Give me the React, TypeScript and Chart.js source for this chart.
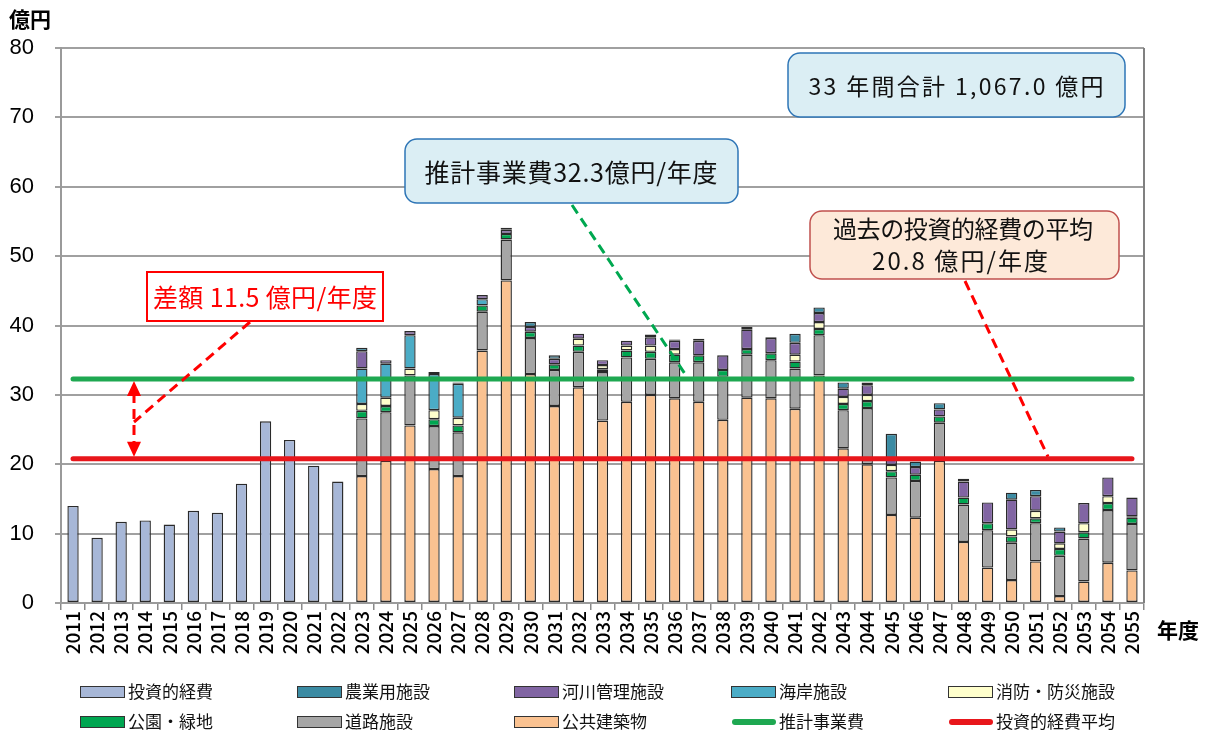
import React, { useEffect, useRef } from 'react';
import { Chart, registerables } from 'chart.js';
Chart.register(...registerables);

const YEARS = ['2011','2012','2013','2014','2015','2016','2017','2018','2019','2020','2021','2022','2023','2024','2025','2026','2027','2028','2029','2030','2031','2032','2033','2034','2035','2036','2037','2038','2039','2040','2041','2042','2043','2044','2045','2046','2047','2048','2049','2050','2051','2052','2053','2054','2055'];
const PAST_YEARS = ['2011','2012','2013','2014','2015','2016','2017','2018','2019','2020','2021','2022'];
const FUTURE_YEARS = ['2023','2024','2025','2026','2027','2028','2029','2030','2031','2032','2033','2034','2035','2036','2037','2038','2039','2040','2041','2042','2043','2044','2045','2046','2047','2048','2049','2050','2051','2052','2053','2054','2055'];

// 投資的経費 (2011-2022)
const INVESTMENT = [14.0, 9.4, 11.7, 11.9, 11.3, 13.3, 13.0, 17.2, 26.2, 23.5, 19.8, 17.5];

// 2023-2055 stacked components
const PUBLIC_BLDG = [18.3, 20.5, 25.6, 19.3, 18.3, 36.4, 46.5, 33.0, 28.4, 31.1, 26.3, 29.0, 30.0, 29.5, 29.0, 26.4, 29.6, 29.5, 28.0, 32.8, 22.3, 20.0, 12.7, 12.3, 20.5, 8.8, 5.1, 3.3, 6.0, 1.0, 3.1, 5.8, 4.7];
const ROAD = [8.3, 7.0, 7.2, 6.2, 6.3, 5.6, 5.9, 5.2, 5.2, 5.1, 7.0, 6.4, 5.2, 5.2, 5.7, 6.2, 6.2, 5.5, 5.8, 5.8, 5.5, 8.1, 5.4, 5.3, 5.5, 5.4, 5.4, 5.4, 5.5, 5.8, 6.2, 7.6, 6.7];
const PARK = [1.1, 0.9, null, 1.0, 1.0, 0.9, 0.8, 0.9, 0.8, 0.9, 0.4, 1.0, 1.0, 1.1, 1.0, 1.0, 0.8, 1.0, 1.0, 0.9, 0.9, 1.0, 0.9, 0.9, 0.9, 1.0, 1.0, 0.9, 0.7, 1.0, 0.9, 1.0, 0.9];
const FIRE = [1.0, 1.2, 1.0, 1.3, 1.1, null, null, null, null, 1.0, 0.6, 0.7, 0.9, 0.8, null, null, null, null, 1.0, 1.0, 1.0, 0.9, 0.9, null, null, null, null, 1.0, 1.1, 0.8, 1.3, 1.0, 0.2];
const COAST = [5.1, 4.9, 4.8, 5.2, 4.9, 0.9, null, null, null, null, null, null, null, null, null, null, null, null, null, null, null, null, null, null, null, null, null, null, null, null, null, null, null];
const RIVER = [2.5, 0.5, 0.6, 0.3, null, 0.6, 0.6, 0.7, 0.8, 0.7, 0.7, 0.7, 1.2, 1.2, 2.1, 2.1, 2.8, 2.2, 1.7, 1.3, 1.2, 1.4, 0.9, 1.1, 1.0, 2.3, 3.0, 4.3, 2.1, 1.7, 2.9, 2.7, 2.7];
const FARM = [0.5, null, null, null, 0.2, null, 0.3, 0.7, 0.5, null, null, null, 0.4, 0.2, 0.3, null, 0.4, 0.1, 1.3, 0.8, 0.9, 0.4, 3.6, 0.8, 0.9, 0.4, null, 1.0, 0.9, 0.6, null, null, null];

const EST_COST = 32.3;   // 推計事業費
const PAST_AVG = 20.8;   // 投資的経費平均
const Y_MAX = 80;
const Y_STEP = 10;

const JP = '"Noto Sans CJK JP", "Noto Sans", sans-serif';

const C = {
  invest: '#a7b7d7',
  farm: '#3b8ba3',
  river: '#8165a3',
  coast: '#4bacc6',
  fire: '#ffffcc',
  park: '#00a651',
  road: '#a6a6a6',
  bldg: '#fac291',
  est: '#1ea851',
  avg: '#e8161b',
};

const LEGEND = [
  { label: '投資的経費', color: C.invest, kind: 'box' },
  { label: '農業用施設', color: C.farm, kind: 'box' },
  { label: '河川管理施設', color: C.river, kind: 'box' },
  { label: '海岸施設', color: C.coast, kind: 'box' },
  { label: '消防・防災施設', color: C.fire, kind: 'box' },
  { label: '公園・緑地', color: C.park, kind: 'box' },
  { label: '道路施設', color: C.road, kind: 'box' },
  { label: '公共建築物', color: C.bldg, kind: 'box' },
  { label: '推計事業費', color: C.est, kind: 'line' },
  { label: '投資的経費平均', color: C.avg, kind: 'line' },
];

function barSet(label: string, years: string[], values: (number | null)[], color: string) {
  return {
    type: 'bar' as const,
    label,
    data: years.map((x, i) => ({ x, y: values[i] })),
    backgroundColor: color,
    borderColor: '#2a2a2a',
    borderWidth: 1.4,
    borderSkipped: false,
    barPercentage: 0.47,
    categoryPercentage: 1,
    stack: 'bars',
    order: 1,
  };
}

function lineSet(label: string, value: number, color: string, stack: string) {
  return {
    type: 'line' as const,
    label,
    data: [{ x: YEARS[0], y: value }, { x: YEARS[YEARS.length - 1], y: value }],
    borderColor: color,
    backgroundColor: color,
    borderWidth: 5,
    borderCapStyle: 'round',
    pointRadius: 0,
    fill: false,
    stack,
    order: 0,
  };
}

function dashLine(ctx: CanvasRenderingContext2D, x1: number, y1: number, x2: number, y2: number, color: string) {
  ctx.save();
  ctx.strokeStyle = color;
  ctx.lineWidth = 3;
  ctx.setLineDash([10, 6]);
  ctx.beginPath();
  ctx.moveTo(x1, y1);
  ctx.lineTo(x2, y2);
  ctx.stroke();
  ctx.restore();
}

function box(ctx: CanvasRenderingContext2D, x: number, y: number, w: number, h: number, r: number, fill: string, stroke: string, lw: number) {
  ctx.save();
  ctx.beginPath();
  if (r > 0) (ctx as any).roundRect(x, y, w, h, r);
  else ctx.rect(x, y, w, h);
  ctx.fillStyle = fill;
  ctx.fill();
  ctx.lineWidth = lw;
  ctx.strokeStyle = stroke;
  ctx.stroke();
  ctx.restore();
}

// draws text centred at x, stretched by letter spacing to a target width
function fitText(ctx: CanvasRenderingContext2D, s: string, x: number, y: number, size: number, color: string, width: number) {
  ctx.save();
  ctx.font = `${size}px ${JP}`;
  ctx.fillStyle = color;
  ctx.textAlign = 'left';
  ctx.textBaseline = 'middle';
  const m = ctx.measureText(s).width;
  const n = Array.from(s).length;
  const sp = n > 1 ? (width - m) / (n - 1) : 0;
  (ctx as any).letterSpacing = `${sp}px`;
  ctx.fillText(s, x - width / 2, y);
  ctx.restore();
}

function text(ctx: CanvasRenderingContext2D, s: string, x: number, y: number, size: number, color: string, align: CanvasTextAlign = 'center', weight = '') {
  ctx.save();
  ctx.font = `${weight} ${size}px ${JP}`;
  ctx.fillStyle = color;
  ctx.textAlign = align;
  ctx.textBaseline = 'middle';
  ctx.fillText(s, x, y);
  ctx.restore();
}

const overlayPlugin = {
  id: 'overlay',
  afterDraw(chart: any) {
    const { ctx, chartArea, scales } = chart;
    const ys = scales.y;
    const estY = ys.getPixelForValue(EST_COST);
    const avgY = ys.getPixelForValue(PAST_AVG);

    // right frame
    ctx.save();
    ctx.strokeStyle = '#808080';
    ctx.lineWidth = 2;
    ctx.beginPath();
    ctx.moveTo(chartArea.right, chartArea.top);
    ctx.lineTo(chartArea.right, chartArea.bottom);
    ctx.stroke();
    ctx.restore();

    // axis titles
    text(ctx, '億円', 9, 19, 21, '#000', 'left', 'bold');
    text(ctx, '年度', 1157, 630, 21, '#000', 'left', 'bold');

    // pointer lines
    dashLine(ctx, 572, 205, 687, estY - 2, '#00a850');
    dashLine(ctx, 965, 281, 1048, avgY - 2, '#ff0000');
    dashLine(ctx, 250, 322, 134, 422, '#ff0000');
    dashLine(ctx, 134, estY + 14, 134, avgY - 14, '#ff0000');
    ctx.save();
    ctx.fillStyle = '#ff0000';
    ctx.beginPath();
    ctx.moveTo(134, estY + 2);
    ctx.lineTo(127, estY + 17);
    ctx.lineTo(141, estY + 17);
    ctx.closePath();
    ctx.fill();
    ctx.beginPath();
    ctx.moveTo(134, avgY - 2);
    ctx.lineTo(127, avgY - 17);
    ctx.lineTo(141, avgY - 17);
    ctx.closePath();
    ctx.fill();
    ctx.restore();

    // annotation boxes
    box(ctx, 788, 53, 337, 64, 12, '#dbeef4', '#2e75b6', 1.5);
    fitText(ctx, '33 年間合計 1,067.0 億円', 956, 86, 23, '#111', 295);

    box(ctx, 405, 139, 333, 64, 12, '#dbeef4', '#2e75b6', 1.5);
    fitText(ctx, '推計事業費32.3億円/年度', 571, 172, 25, '#111', 293);

    box(ctx, 810, 211, 309, 68, 12, '#fde9d9', '#c0504d', 1.5);
    fitText(ctx, '過去の投資的経費の平均', 963, 229, 24, '#111', 260);
    fitText(ctx, '20.8 億円/年度', 960, 261, 24, '#111', 176);

    box(ctx, 147, 272, 236, 49, 0, '#ffffff', '#ff0000', 2);
    fitText(ctx, '差額 11.5 億円/年度', 265, 297, 25, '#ff0000', 224);

    // legend
    const cols = [80, 297, 514, 731, 948];
    const rows = [692, 722];
    LEGEND.forEach((it, i) => {
      const x = cols[i % 5];
      const y = rows[Math.floor(i / 5)];
      ctx.save();
      if (it.kind === 'box') {
        ctx.fillStyle = it.color;
        ctx.fillRect(x, y - 6, 45, 12);
        ctx.strokeStyle = '#333';
        ctx.lineWidth = 1;
        ctx.strokeRect(x + 0.5, y - 5.5, 44, 11);
      } else {
        ctx.strokeStyle = it.color;
        ctx.lineWidth = 6;
        ctx.lineCap = 'round';
        ctx.beginPath();
        ctx.moveTo(x + 4, y);
        ctx.lineTo(x + 42, y);
        ctx.stroke();
      }
      ctx.restore();
      text(ctx, it.label, x + 48, y, 17, '#111', 'left');
    });
  },
};

export default function App() {
  const ref = useRef<HTMLCanvasElement | null>(null);
  useEffect(() => {
    document.body.style.margin = '0';
    const canvas = ref.current;
    if (!canvas) return;
    const chart = new Chart(canvas, {
      type: 'bar',
      data: {
        labels: YEARS,
        datasets: [
          barSet('投資的経費', PAST_YEARS, INVESTMENT, C.invest),
          barSet('公共建築物', FUTURE_YEARS, PUBLIC_BLDG, C.bldg),
          barSet('道路施設', FUTURE_YEARS, ROAD, C.road),
          barSet('公園・緑地', FUTURE_YEARS, PARK, C.park),
          barSet('消防・防災施設', FUTURE_YEARS, FIRE, C.fire),
          barSet('海岸施設', FUTURE_YEARS, COAST, C.coast),
          barSet('河川管理施設', FUTURE_YEARS, RIVER, C.river),
          barSet('農業用施設', FUTURE_YEARS, FARM, C.farm),
          lineSet('推計事業費', EST_COST, C.est, 'est') as any,
          lineSet('投資的経費平均', PAST_AVG, C.avg, 'avg') as any,
        ],
      },
      options: {
        responsive: false,
        animation: false,
        devicePixelRatio: 1,
        layout: { padding: { top: 48, right: 65, left: 0, bottom: 0 } },
        plugins: { legend: { display: false }, tooltip: { enabled: false } },
        scales: {
          x: {
            type: 'category',
            stacked: true,
            offset: true,
            grid: { display: true, drawOnChartArea: false, drawTicks: true, tickLength: 7, color: '#8a8a8a', lineWidth: 1.5, offset: true },
            border: { display: true, color: '#9a9a9a', width: 2 },
            ticks: { autoSkip: false, minRotation: 90, maxRotation: 90, padding: 1, color: '#000', font: { family: JP, size: 19, weight: '500' } },
            afterFit: (s: any) => { s.height = 130; },
          },
          y: {
            min: 0,
            max: Y_MAX,
            stacked: true,
            ticks: { stepSize: Y_STEP, padding: 21, color: '#000', font: { family: '"Liberation Sans", Arial, sans-serif', size: 22 } },
            grid: { color: '#a0a0a0', lineWidth: 2, tickLength: 6, drawTicks: true },
            border: { display: true, color: '#9a9a9a', width: 2 },
            afterFit: (s: any) => { s.width = 61; },
          },
        },
      } as any,
      plugins: [overlayPlugin],
    });
    return () => chart.destroy();
  }, []);
  return (
    <div style={{ position: 'absolute', left: 0, top: 0 }}>
      <canvas ref={ref} width={1209} height={733} style={{ display: 'block' }} />
    </div>
  );
}
